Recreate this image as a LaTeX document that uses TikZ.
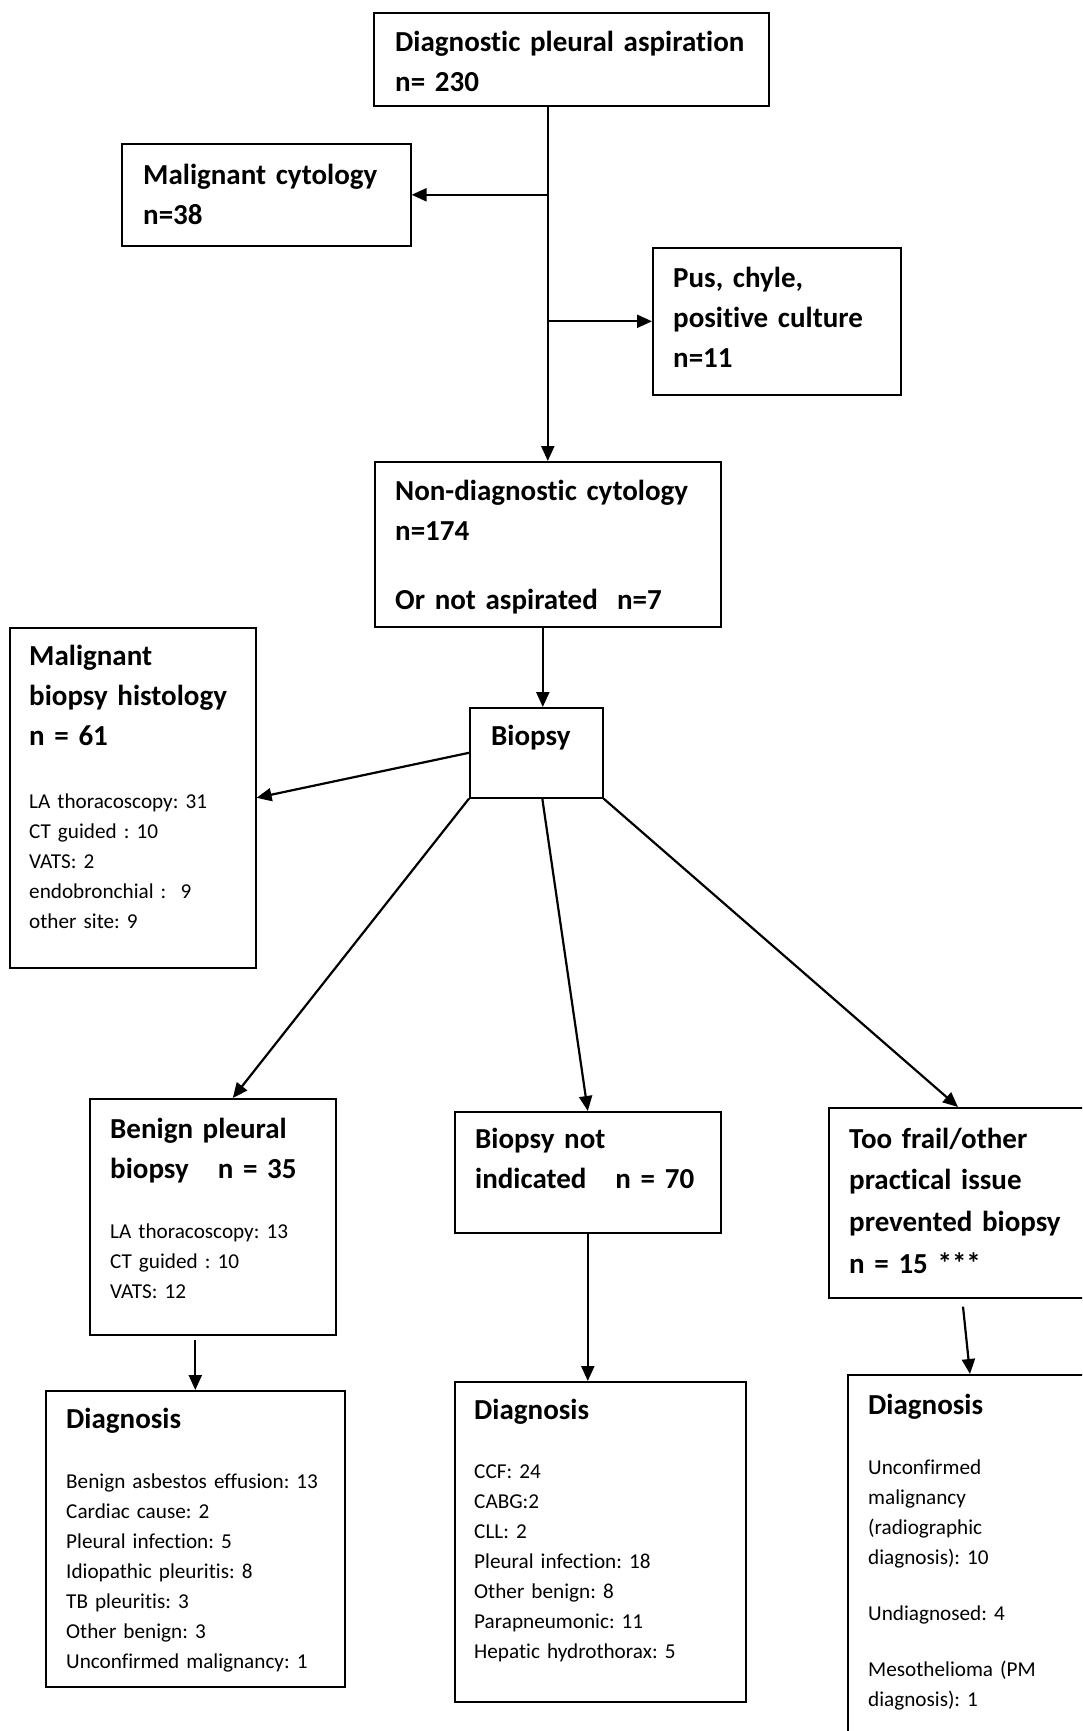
\documentclass[tikz,border=0pt]{standalone}
\usepackage{fontspec}
\setmainfont{Carlito}[Ligatures=NoCommon]
\frenchspacing
\usetikzlibrary{arrows.meta}

\begin{document}
\begin{tikzpicture}[x=1pt, y=-1pt,
  boxnode/.style={draw=black, line width=1.6pt, anchor=north west, inner sep=0pt},
  headtxt/.style={anchor=base west, inner sep=0pt, text width=380pt, align=left,
    font=\fontsize{29}{40}\selectfont\bfseries},
  listtxt/.style={anchor=base west, inner sep=0pt, text width=380pt, align=left,
    font=\fontsize{21.2}{30}\selectfont},
  arr/.style={line width=2.2pt, -{Triangle[length=15pt,width=13pt]}},
]
\useasboundingbox (0,0) rectangle (1082,1731);
\clip (0,0) rectangle (1082,1731);
% boxes: name / left / top / width / height (px)
\foreach \nm/\x/\y/\w/\h in {%
  asp/373/12/395/93, malcyt/121/143/289/102, pus/652/247/248/147,
  nondiag/374/461/346/165, biopsy/469/707/133/90, malbio/9/627/246/340,
  benign/89/1098/246/236, notind/454/1111/266/121, frail/828/1107/300/190,
  diagL/45/1390/299/296, diagM/454/1381/291/320, diagR/847/1374/300/400%
} {
  \node[boxnode, minimum width=\w, minimum height=\h] (\nm) at (\x,\y) {};
}
% texts
\node[headtxt] (asptxt) at (395,52) {Diagnostic pleural aspiration\\n= 230};
\node[headtxt] (malcyttxt) at (143,185) {Malignant cytology\\n=38};
\node[headtxt] (pustxt) at (673,287) {Pus, chyle,\\positive culture\\n=11};
\node[headtxt] (nondiagtxt) at (395,500) {Non-diagnostic cytology\\n=174\\[29pt]Or not aspirated\ \ n=7};
\node[headtxt] (biopsytxt) at (491,745) {Biopsy};
\node[headtxt] (malbiotxt) at (29,665) {Malignant\\biopsy histology\\n = 61};
\node[listtxt] (malbiolist) at (29,808) {LA thoracoscopy: 31\\CT guided : 10\\VATS: 2\\endobronchial :\ \ 9\\other site: 9};
\node[headtxt] (benigntxt) at (110,1138) {Benign pleural\\biopsy\ \ \ n = 35};
\node[listtxt] (benignlist) at (110,1238) {LA thoracoscopy: 13\\CT guided : 10\\VATS: 12};
\node[headtxt] (notindtxt) at (475,1148) {Biopsy not\\indicated\ \ \ n = 70};
\node[headtxt, font=\fontsize{29}{41.7}\selectfont\bfseries] (frailtxt) at (849,1148) {Too frail/other\\practical issue\\prevented biopsy\\n = 15 ***};
\node[headtxt] (diagLtxt) at (66,1428) {Diagnosis};
\node[listtxt] (diagLlist) at (66,1488) {Benign asbestos effusion: 13\\Cardiac cause: 2\\Pleural infection: 5\\Idiopathic pleuritis: 8\\TB pleuritis: 3\\Other benign: 3\\Unconfirmed malignancy: 1};
\node[headtxt] (diagMtxt) at (474,1419) {Diagnosis};
\node[listtxt] (diagMlist) at (474,1478) {CCF: 24\\CABG:2\\CLL: 2\\Pleural infection: 18\\Other benign: 8\\Parapneumonic: 11\\Hepatic hydrothorax: 5};
\node[headtxt] (diagRtxt) at (868,1414) {Diagnosis};
\node[listtxt] (diagRlist) at (868,1474) {Unconfirmed\\malignancy\\(radiographic\\diagnosis): 10\\[26pt]Undiagnosed: 4\\[26pt]Mesothelioma (PM\\diagnosis): 1};
% connectors
\draw[arr] (nondiag.north |- asp.south) -- (nondiag.north);
\draw[arr] (nondiag.north |- malcyt.east) -- (malcyt.east);
\draw[arr] (nondiag.north |- pus.west) -- (pus.west);
\draw[arr] ([xshift=-5pt]nondiag.south) -- ([xshift=-5pt]nondiag.south |- biopsy.north);
\draw[arr] (biopsy.west) -- (malbio.east);
\draw[arr] (biopsy.south west) -- ([xshift=20pt]benign.north);
\draw[arr] ([xshift=6pt]biopsy.south) -- (notind.north);
\draw[arr] (biopsy.south east) -- ([xshift=130pt]frail.north west);
\draw[arr, shorten <=4pt] (benign.south -| diagL.north) -- (diagL.north);
\draw[arr] (notind.south) -- (notind.south |- diagM.north);
\draw[arr] ([xshift=135pt, yshift=-8pt]frail.south west) -- ([xshift=123pt]diagR.north west);
\end{tikzpicture}
\end{document}
